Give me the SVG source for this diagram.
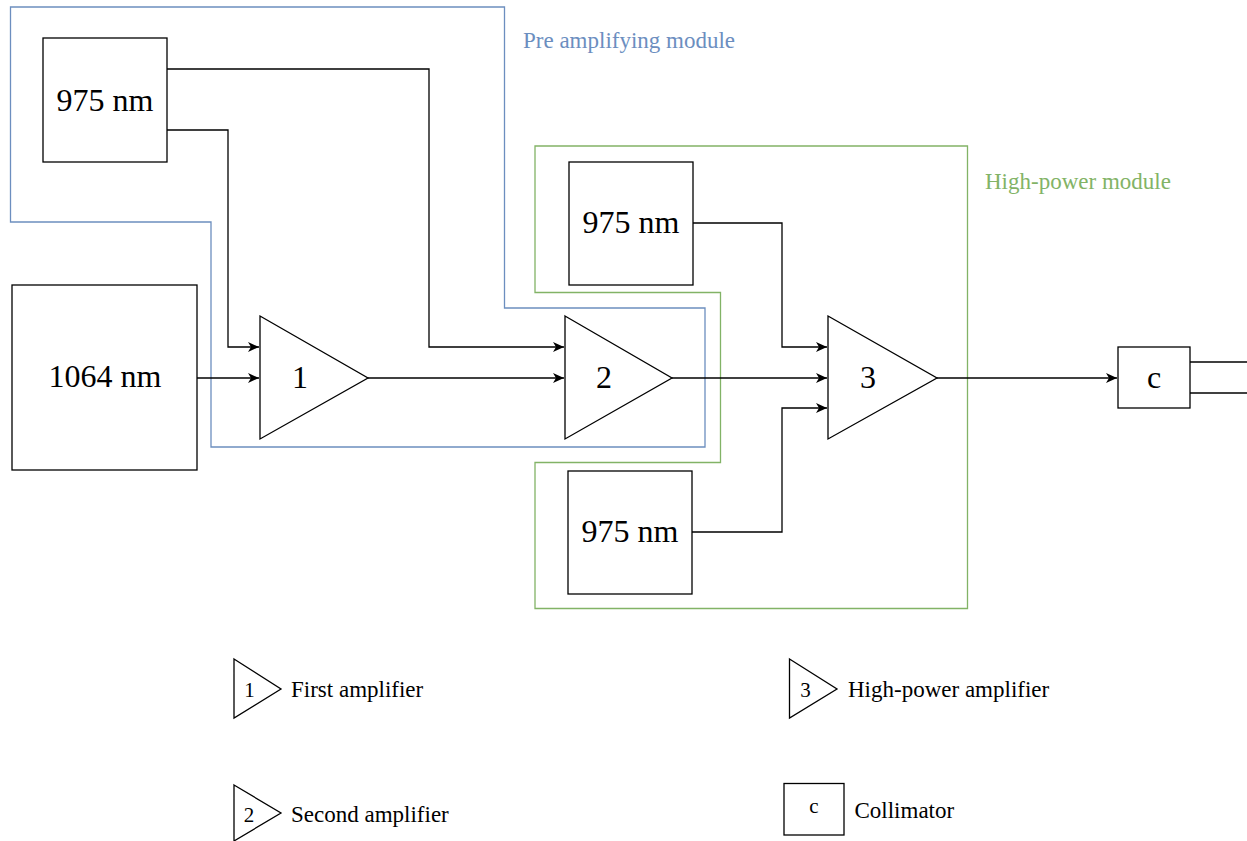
<svg xmlns="http://www.w3.org/2000/svg" width="1247" height="841" viewBox="0 0 1247 841">
<style>
.box{fill:#fff;stroke:#000;stroke-width:1.3}
.amp{fill:#fff;stroke:#000;stroke-width:1.3;stroke-linejoin:miter}
.wire{fill:none;stroke:#000;stroke-width:1.3}
.arr{marker-end:url(#ah)}
.big{font-family:"Liberation Serif","Times New Roman",serif;font-size:32px;fill:#000;text-anchor:middle}
.leg{font-family:"Liberation Serif","Times New Roman",serif;font-size:23px;fill:#000}
.legn{font-family:"Liberation Serif","Times New Roman",serif;font-size:21px;fill:#000;text-anchor:middle}
.mod{font-family:"Liberation Serif","Times New Roman",serif;font-size:23px}
</style>
<defs>
<marker id="ah" markerWidth="12" markerHeight="10" refX="11" refY="5" orient="auto" markerUnits="userSpaceOnUse">
<path d="M0,0 L11,5 L0,10 L3,5 Z" fill="#000"/>
</marker>
</defs>
<rect width="1247" height="841" fill="#fff"/>

<g id="pre-module">
<path d="M10.5,7 L504.5,7 L504.5,308 L705,308 L705,447 L211,447 L211,222 L10.5,222 Z" fill="none" stroke="#6c8ebf" stroke-width="1.3"/>
<text class="mod" x="523" y="48" fill="#6c8ebf">Pre amplifying module</text>
</g>
<g id="hp-module">
<path d="M535,146 L967.5,146 L967.5,608.5 L535,608.5 L535,462.5 L720.5,462.5 L720.5,292.5 L535,292.5 Z" fill="none" stroke="#82b366" stroke-width="1.3"/>
<text class="mod" x="985" y="189" fill="#82b366">High-power module</text>
</g>

<g id="connectors">
<path class="wire arr" d="M167,69 L429,69 L429,347 L564,347"/>
<path class="wire arr" d="M167,130 L228,130 L228,347 L259,347"/>
<path class="wire arr" d="M197,378 L259,378"/>
<path class="wire arr" d="M368,378 L564,378"/>
<path class="wire arr" d="M672,378 L827,378"/>
<path class="wire arr" d="M693,223 L782,223 L782,347 L827,347"/>
<path class="wire arr" d="M692,532 L782,532 L782,408 L827,408"/>
<path class="wire arr" d="M937,378 L1117,378"/>
<path class="wire" d="M1190,362 L1247,362"/>
<path class="wire" d="M1190,393 L1247,393"/>
</g>

<g id="pump1">
<rect class="box" x="43" y="38" width="124" height="124"/>
<text class="big" x="105" y="111">975 nm</text>
</g>
<g id="seed">
<rect class="box" x="12" y="285" width="185" height="185"/>
<text class="big" x="105" y="387">1064 nm</text>
</g>
<g id="amp1">
<path class="amp" d="M260,316 L368,378 L260,439 Z"/>
<text class="big" x="300" y="388">1</text>
</g>
<g id="amp2">
<path class="amp" d="M565,316 L672,378 L565,439 Z"/>
<text class="big" x="604" y="388">2</text>
</g>
<g id="pump2">
<rect class="box" x="569" y="162" width="124" height="123"/>
<text class="big" x="631" y="233">975 nm</text>
</g>
<g id="pump3">
<rect class="box" x="568" y="471" width="124" height="123"/>
<text class="big" x="630" y="542">975 nm</text>
</g>
<g id="amp3">
<path class="amp" d="M828,316 L937,378 L828,439 Z"/>
<text class="big" x="868" y="388">3</text>
</g>
<g id="collimator">
<rect class="box" x="1118" y="347" width="72" height="61"/>
<text class="big" x="1154" y="388">c</text>
</g>

<g id="legend-amp1">
<path class="amp" d="M234,659 L281,689 L234,718 Z"/>
<text class="legn" x="249.5" y="697">1</text>
<text class="leg" x="291" y="697">First amplifier</text>
</g>
<g id="legend-amp2">
<path class="amp" d="M234,785 L281,813 L234,841 Z"/>
<text class="legn" x="249" y="822">2</text>
<text class="leg" x="291" y="822">Second amplifier</text>
</g>
<g id="legend-amp3">
<path class="amp" d="M789.5,659 L837,689 L789.5,718 Z"/>
<text class="legn" x="805.5" y="697">3</text>
<text class="leg" x="848" y="697">High-power amplifier</text>
</g>
<g id="legend-collimator">
<rect class="box" x="784" y="783.5" width="60" height="51.5"/>
<text class="legn" x="814" y="813">c</text>
<text class="leg" x="854.5" y="818">Collimator</text>
</g>
</svg>
